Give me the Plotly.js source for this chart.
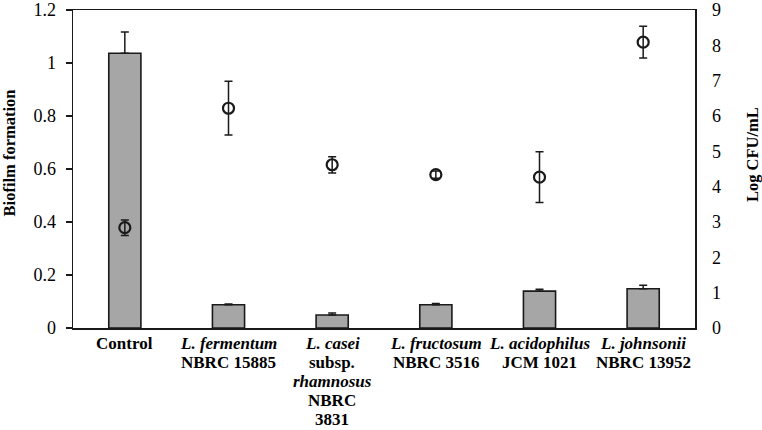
<!DOCTYPE html>
<html>
<head>
<meta charset="utf-8">
<script src="https://cdn.plot.ly/plotly-3.0.1.min.js"></script>
<style>html,body{margin:0;padding:0;background:#fff}#chart{width:762px;height:430px}</style>
</head>
<body>
<div id="chart"></div>
<script>
const categories = [
  ["<b>Control</b>"],
  ["<b><i>L. fermentum</i></b>", "<b>NBRC 15885</b>"],
  ["<b><i>L. casei</i></b>", "<b>subsp.</b>", "<b><i>rhamnosus</i></b>", "<b>NBRC</b>", "<b>3831</b>"],
  ["<b><i>L. fructosum</i></b>", "<b>NBRC 3516</b>"],
  ["<b><i>L. acidophilus</i></b>", "<b>JCM 1021</b>"],
  ["<b><i>L. johnsonii</i></b>", "<b>NBRC 13952</b>"]
];
const biofilm = [1.037, 0.088, 0.049, 0.088, 0.139, 0.148];
const biofilmErr = [0.08, 0.003, 0.008, 0.004, 0.007, 0.013];
const logCFU = [2.84, 6.22, 4.62, 4.34, 4.27, 8.09];
const logCFUErr = [0.22, 0.76, 0.23, 0.1, 0.72, 0.45];
const leftTicks = [0, 0.2, 0.4, 0.6, 0.8, 1, 1.2];
const leftTickText = ["0", "0.2", "0.4", "0.6", "0.8", "1", "1.2"];
const rightTicks = [0, 1, 2, 3, 4, 5, 6, 7, 8, 9];

const xs = categories.map((_, i) => i);
const dark = "#1a1a1a";
const font = "'Liberation Serif', 'Times New Roman', serif";

const traces = [
  {
    type: "bar", x: xs, y: biofilm, width: 0.31,
    marker: {color: "#a6a6a6", line: {color: dark, width: 1.6}},
    error_y: {type: "data", array: biofilmErr, symmetric: false, arrayminus: biofilm.map(() => 0), color: dark, thickness: 1.5, width: 4},
    showlegend: false, hoverinfo: "skip"
  },
  {
    type: "scatter", mode: "markers", x: xs, y: logCFU, yaxis: "y2",
    marker: {symbol: "circle-open", size: 11, color: dark, line: {color: dark, width: 2.2}},
    error_y: {type: "data", array: logCFUErr, color: dark, thickness: 1.5, width: 4},
    showlegend: false, hoverinfo: "skip"
  }
];

// category labels: one annotation per text line, 19 px apart, below the axis
const labelAnnotations = [];
categories.forEach((lines, i) => {
  lines.forEach((txt, k) => {
    labelAnnotations.push({
      text: txt, x: i, xref: "x", y: 0, yref: "paper",
      yanchor: "middle", xanchor: "center", yshift: -(15 + 19 * k),
      showarrow: false, font: {family: font, size: 17, color: "#000"}
    });
  });
});

const layout = {
  width: 762, height: 430,
  margin: {l: 73, r: 67, t: 10, b: 102},
  paper_bgcolor: "#fff", plot_bgcolor: "#fff",
  font: {family: font, color: "#000"},
  xaxis: {
    range: [-0.5, 5.5], tickmode: "array", tickvals: xs, showticklabels: false,
    showgrid: false, zeroline: false, showline: true, linecolor: dark, linewidth: 1.5,
    mirror: true, ticks: "", fixedrange: true
  },
  yaxis: {
    range: [0, 1.2], tickmode: "array", tickvals: leftTicks, ticktext: leftTickText,
    showgrid: false, zeroline: false, showline: true, linecolor: dark, linewidth: 1.5,
    mirror: true, ticks: "outside", ticklen: 6, tickwidth: 1.5, tickcolor: dark,
    tickfont: {family: font, size: 18, color: "#000"}, ticklabelstandoff: 6,
    ticklabeloverflow: "allow"
  },
  yaxis2: {
    range: [0, 9], overlaying: "y", side: "right", tickmode: "array", tickvals: rightTicks,
    showgrid: false, zeroline: false, showline: false, ticks: "",
    tickfont: {family: font, size: 18, color: "#000"}, ticklabelstandoff: 16,
    ticklabeloverflow: "allow"
  },
  annotations: [
    {text: "<b>Biofilm formation</b>", xref: "paper", yref: "paper", x: -0.1024, y: 0.55,
     xanchor: "center", yanchor: "middle",
     textangle: -90, showarrow: false, font: {family: font, size: 16.5, color: "#000"}},
    {text: "<b>Log CFU/mL</b>", xref: "paper", yref: "paper", x: 1.0916, y: 0.547,
     xanchor: "center", yanchor: "middle",
     textangle: -90, showarrow: false, font: {family: font, size: 16.5, color: "#000"}}
  ].concat(labelAnnotations)
};

Plotly.newPlot("chart", traces, layout, {displayModeBar: false, staticPlot: true});
</script>
</body>
</html>
